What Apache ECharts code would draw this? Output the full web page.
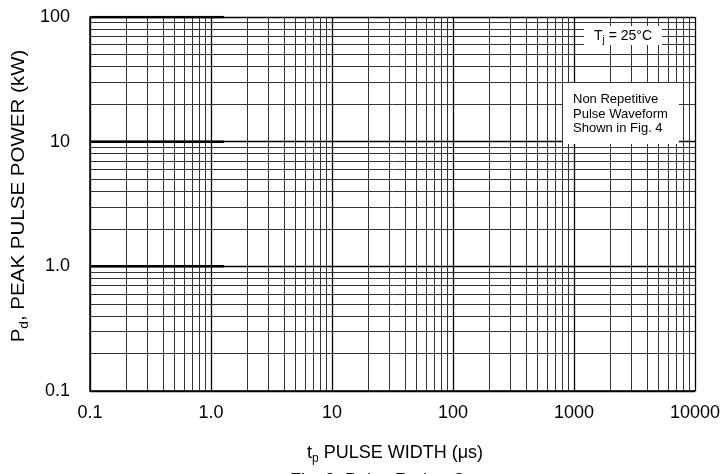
<!DOCTYPE html>
<html>
<head>
<meta charset="utf-8">
<script src="https://cdn.jsdelivr.net/npm/echarts@6/dist/echarts.min.js"></script>
<style>html,body{margin:0;padding:0;background:#fff}#c{width:723px;height:474px}</style>
</head>
<body>
<div id="c"></div>
<script>
// axis ranges and tick labels
const xMin = 0.1, xMax = 10000;
const yMin = 0.1, yMax = 100;
const xTickLabels = {"0.1": "0.1", "1": "1.0", "10": "10", "100": "100", "1000": "1000", "10000": "10000"};
const yTickLabels = {"0.1": "0.1", "1": "1.0", "10": "10", "100": "100"};
// minor grid multipliers within each decade
const minorMult = [2, 3, 4, 5, 6, 7, 8, 9];
const xDecades = [0.1, 1, 10, 100, 1000];
const yDecades = [0.1, 1, 10];
// short heavy segments seen at decade lines on the left
const segStartX = 0.1, segEndX = 1.28;
const segLevels = [100, 10, 1];

const FONT = "'Liberation Sans', Arial, Helvetica, sans-serif";

function fmtNum(v) { return Number(v.toPrecision(6)); }
const xMinor = [];
xDecades.forEach(d => minorMult.forEach(m => xMinor.push(fmtNum(d * m))));
const yMinor = [];
yDecades.forEach(d => minorMult.forEach(m => yMinor.push(fmtNum(d * m))));

const series = [{
  type: 'line', data: [], silent: true,
  markLine: {
    silent: true, symbol: 'none', animation: false,
    label: {show: false},
    lineStyle: {type: 'solid', color: '#333', width: 1},
    data: xMinor.map(v => ({xAxis: v})).concat(yMinor.map(v => ({yAxis: v})))
  }
}];
segLevels.forEach(lv => {
  series.push({
    type: 'line', silent: true, symbol: 'none', animation: false,
    lineStyle: {color: '#000', width: 2.5},
    data: [[segStartX, lv], [segEndX, lv]], z: 5
  });
});

const chart = echarts.init(document.getElementById('c'), null, {renderer: 'canvas'});
chart.setOption({
  animation: false,
  backgroundColor: '#fff',
  grid: {left: 90, right: 24, top: 17, bottom: 83, containLabel: false},
  xAxis: {
    type: 'log', logBase: 10, min: xMin, max: xMax,
    axisLine: {show: true, lineStyle: {color: '#000', width: 1.5}},
    axisTick: {show: false},
    axisLabel: {
      color: '#000', fontSize: 18, fontFamily: FONT, margin: 13,
      formatter: v => xTickLabels[String(fmtNum(v))] || ''
    },
    splitLine: {show: true, lineStyle: {color: '#000', width: 1.3}}
  },
  yAxis: {
    type: 'log', logBase: 10, min: yMin, max: yMax,
    axisLine: {show: true, lineStyle: {color: '#000', width: 1.5}},
    axisTick: {show: false},
    axisLabel: {
      color: '#000', fontSize: 18, fontFamily: FONT, margin: 20,
      formatter: v => yTickLabels[String(fmtNum(v))] || ''
    },
    splitLine: {show: true, lineStyle: {color: '#000', width: 1.3}}
  },
  series: series,
  graphic: [
    {type: 'rect', z: 100, shape: {x: 584, y: 26, width: 78, height: 19}, style: {fill: '#fff'}},
    {type: 'text', z: 101, x: 623, y: 36, style: {
      text: '{m|T}{s|j}{m| = 25°C}', align: 'center', verticalAlign: 'middle',
      rich: {m: {fontSize: 14, fontFamily: FONT, fill: '#000', lineHeight: 18},
             s: {fontSize: 10, fontFamily: FONT, fill: '#000', padding: [8, 0, 0, 0]}}
    }},
    {type: 'rect', z: 100, shape: {x: 563, y: 83, width: 116, height: 61}, style: {fill: '#fff'}},
    {type: 'text', z: 101, x: 573, y: 114, style: {
      text: 'Non Repetitive\nPulse Waveform\nShown in Fig. 4', align: 'left', verticalAlign: 'middle',
      fontSize: 13, lineHeight: 14.5, fontFamily: FONT, fill: '#000'
    }},
    {type: 'text', z: 101, x: 395, y: 453, style: {
      text: '{m|t}{s|p}{m| PULSE WIDTH (μs)}', align: 'center', verticalAlign: 'middle',
      rich: {m: {fontSize: 18, fontFamily: FONT, fill: '#000', lineHeight: 22},
             s: {fontSize: 12, fontFamily: FONT, fill: '#000', padding: [11, 0, 0, 0]}}
    }},
    {type: 'text', z: 101, x: 395, y: 481, style: {
      text: 'Fig. 3  Pulse Rating Curve', align: 'center', verticalAlign: 'middle',
      fontSize: 18, fontFamily: FONT, fill: '#000'
    }},
    {type: 'text', z: 101, x: 19, y: 196, rotation: Math.PI / 2, scaleX: 1.14, style: {
      text: '{m|P}{s|d}{m|, PEAK PULSE POWER (kW)}', align: 'center', verticalAlign: 'middle',
      rich: {m: {fontSize: 18, fontFamily: FONT, fill: '#000', lineHeight: 22},
             s: {fontSize: 12, fontFamily: FONT, fill: '#000', padding: [11, 0, 0, 0]}}
    }}
  ]
});
</script>
</body>
</html>
